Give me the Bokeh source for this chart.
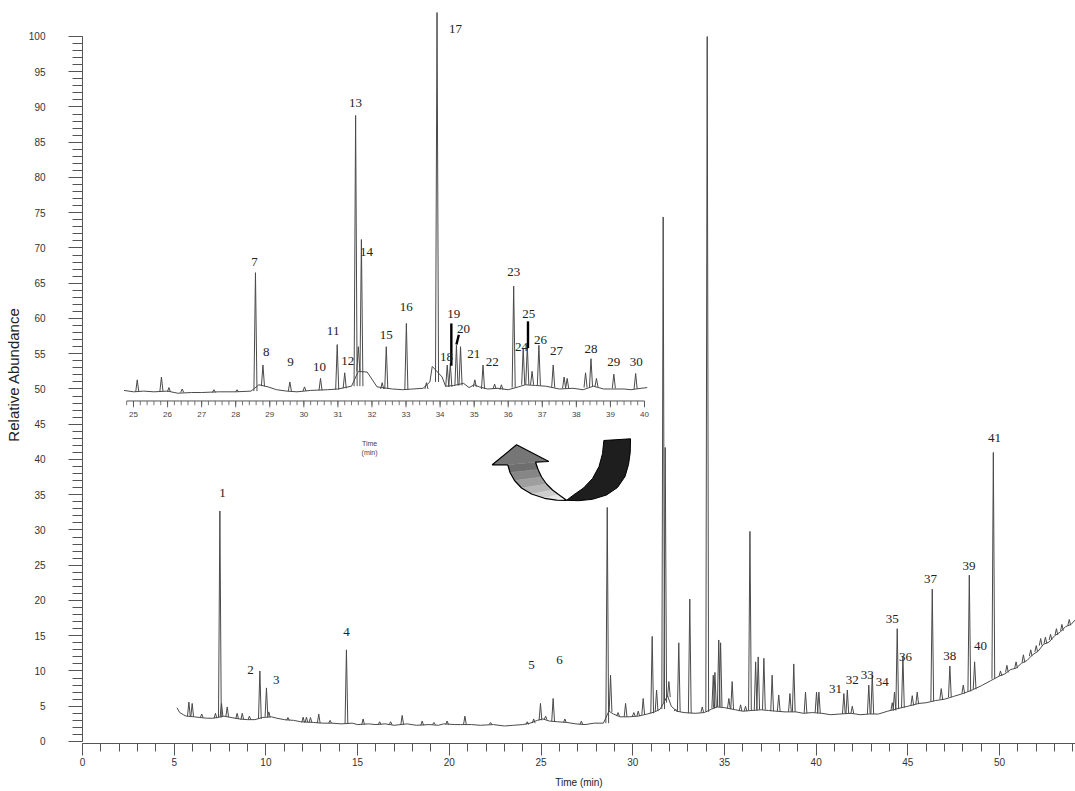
import numpy as np
from bokeh.plotting import figure
from bokeh.models import Range1d, SingleIntervalTicker
from bokeh.core.properties import value
from bokeh.embed import file_html
from bokeh.resources import INLINE

# ---------------- main chromatogram (time in min, relative abundance) ----------------
base_t = [5.15, 5.3, 5.5, 5.65, 6.1, 6.4, 6.8, 7.1, 7.35, 7.7, 8.1, 8.55, 9.0, 9.4, 9.8,
          10.3, 10.6, 11.0, 11.5, 11.9, 12.6, 13.1, 13.6, 14.1, 14.7, 15.0, 15.6, 16.0, 16.5,
          17.0, 17.7, 18.2, 18.9, 19.4, 19.7, 20.3, 20.6, 21.2, 21.7, 22.4, 23.0, 23.5, 24.0,
          24.4, 24.8, 25.1, 25.45, 25.9, 26.4, 26.9, 27.4, 27.9, 28.4, 28.7, 28.95, 29.3,
          29.8, 30.3, 30.8, 31.2, 31.5, 31.9, 32.1, 32.4, 32.8, 33.4, 33.9, 34.3, 34.6, 35.0,
          35.6, 36.0, 36.5, 37.0, 37.4, 37.8, 38.3, 38.9, 39.3, 39.8, 40.3, 40.8, 41.3, 41.9,
          42.4, 42.9, 43.4, 43.9, 44.5, 45.0, 45.6, 46.0, 46.5, 47.0, 47.5, 48.0, 48.5, 49.0,
          49.5, 50.0, 50.3, 50.6, 50.9, 51.2, 51.5, 51.8, 52.1, 52.4, 52.7, 53.0, 53.3, 53.6,
          53.9, 54.14]
base_y = [4.8, 4.1, 3.8, 3.6, 3.5, 3.4, 3.3, 3.3, 3.4, 3.6, 3.4, 3.2, 3.1, 3.1, 3.4,
          3.5, 3.3, 3.1, 3.0, 2.8, 2.7, 2.6, 2.6, 2.5, 2.6, 2.4, 2.5, 2.4, 2.5,
          2.3, 2.5, 2.3, 2.4, 2.3, 2.5, 2.4, 2.4, 2.4, 2.3, 2.4, 2.2, 2.3, 2.4,
          2.6, 3.0, 3.2, 2.9, 2.8, 2.7, 2.5, 2.4, 2.6, 2.6, 4.3, 3.9, 3.5,
          3.5, 3.6, 3.9, 4.2, 4.6, 6.5, 5.0, 4.3, 4.1, 4.0, 4.1, 4.6, 4.9, 4.8,
          4.5, 4.3, 4.4, 4.5, 4.4, 4.3, 4.2, 4.2, 4.0, 4.1, 4.0, 3.8, 3.9, 4.0,
          3.8, 3.9, 3.9, 4.3, 4.7, 5.0, 5.4, 5.5, 5.8, 6.0, 6.4, 6.8, 7.3, 7.9,
          8.6, 9.3, 9.6, 10.2, 10.4, 11.1, 11.5, 12.3, 12.8, 13.8, 14.1, 15.0, 15.5, 16.3,
          16.6, 17.3]

peak_t = [5.80, 5.98, 6.50, 7.25, 7.49, 7.58, 7.89, 8.43, 8.71, 9.10, 9.67, 10.03, 10.16,
          11.20, 12.03, 12.21, 12.43, 12.88, 13.50, 14.39, 15.30, 16.20, 16.80, 17.43, 18.52,
          19.16, 19.88, 20.85, 22.25, 24.25, 24.60, 24.97, 25.25, 25.66, 26.30, 27.20, 28.61,
          28.79, 29.20, 29.61, 30.06, 30.30, 30.57, 31.06, 31.30, 31.66, 31.77, 31.97, 32.33,
          32.51, 33.11, 33.79, 34.06, 34.39, 34.48, 34.69, 34.79, 35.24, 35.42, 35.88, 36.15,
          36.39, 36.70, 36.84, 37.15, 37.60, 37.96, 38.57, 38.78, 39.42, 40.02, 40.15, 41.51,
          41.70, 41.97, 42.87, 43.06, 44.15, 44.27, 44.42, 44.73, 45.24, 45.51, 46.33, 46.82,
          47.29, 48.02, 48.35, 48.64, 49.66, 50.05, 50.40, 50.90, 51.30, 51.70, 52.00, 52.24,
          52.50, 52.78, 53.10, 53.40, 53.80]
peak_base = [3.6, 3.5, 3.4, 3.3, 3.4, 3.5, 3.5, 3.2, 3.1, 3.1, 3.2, 3.5, 3.4,
             3.0, 2.7, 2.7, 2.7, 2.6, 2.6, 2.5, 2.4, 2.4, 2.4, 2.4, 2.3,
             2.4, 2.4, 2.4, 2.4, 2.4, 2.6, 3.0, 3.1, 2.9, 2.7, 2.4, 2.6,
             4.2, 3.6, 3.5, 3.6, 3.6, 3.8, 4.0, 4.3, 4.6, 5.5, 6.3, 4.3,
             4.2, 4.0, 4.1, 4.2, 4.7, 4.8, 4.9, 4.9, 4.7, 4.6, 4.3, 4.3,
             4.4, 4.4, 4.5, 4.5, 4.3, 4.3, 4.2, 4.2, 4.0, 4.1, 4.0, 3.9,
             3.9, 4.0, 3.9, 3.9, 4.4, 4.4, 4.6, 4.8, 5.1, 5.3, 5.7, 6.0,
             6.3, 6.8, 7.1, 7.4, 8.9, 9.3, 9.8, 10.4, 11.2, 12.1, 12.7, 13.6,
             13.9, 14.4, 15.1, 15.7, 16.5]
peak_top = [5.6, 5.4, 3.9, 4.0, 32.7, 5.4, 4.9, 4.0, 4.0, 3.6, 10.0, 7.6, 4.2,
            3.4, 3.45, 3.45, 3.4, 3.9, 3.0, 13.0, 3.2, 2.8, 2.8, 3.7, 2.9,
            2.7, 2.9, 3.6, 2.7, 2.8, 3.2, 5.4, 3.6, 6.1, 3.2, 2.9, 33.2,
            9.4, 4.1, 5.4, 4.1, 4.3, 6.1, 14.9, 7.3, 74.4, 41.7, 8.5, 4.6,
            14.0, 20.2, 4.9, 100.0, 9.4, 9.8, 14.4, 14.0, 6.1, 8.5, 5.2, 5.0,
            29.8, 11.3, 12.0, 11.8, 9.4, 6.6, 6.8, 11.0, 7.0, 7.0, 7.0, 6.8,
            7.3, 5.0, 8.0, 9.5, 5.5, 7.0, 16.0, 12.1, 6.5, 7.0, 21.6, 7.5,
            10.7, 8.0, 23.6, 11.3, 41.0, 10.0, 10.8, 11.3, 12.3, 13.0, 13.6, 14.6,
            14.8, 15.2, 16.0, 16.6, 17.3]

lab_text = ["1", "2", "3", "4", "5", "6", "31", "32", "33", "34", "35", "36", "37", "38",
            "39", "40", "41"]
lab_t = [7.63, 9.16, 10.56, 14.39, 24.48, 26.01, 41.06, 41.97, 42.79, 43.60, 44.15, 44.87,
         46.24, 47.29, 48.33, 48.96, 49.73]
lab_y = [35.3, 10.2, 8.7, 15.5, 10.8, 11.6, 7.5, 8.7, 9.4, 8.4, 17.4, 12.0, 23.1, 12.1,
         24.9, 13.5, 43.1]

# ---------------- inset (expanded 25-40 min) ----------------
ins_base_t = [24.72, 25.0, 25.3, 25.6, 26.0, 26.3, 26.7, 27.0, 27.5, 28.0, 28.45, 28.68,
              28.95, 29.2, 29.5, 29.8, 30.2, 30.7, 31.0, 31.4, 31.6, 31.86, 32.15, 32.6,
              32.9, 33.2, 33.5, 33.7, 33.77, 34.06, 34.16, 34.4, 34.69, 34.85, 35.0, 35.15,
              35.4, 35.7, 36.0, 36.3, 36.5, 36.8, 37.1, 37.5, 37.9, 38.2, 38.5, 38.8, 39.0,
              39.4, 39.6, 39.9, 40.08]
ins_base_y = [49.8, 49.6, 49.7, 49.6, 49.7, 49.4, 49.5, 49.5, 49.6, 49.6, 49.7, 50.6,
              50.3, 49.9, 49.7, 49.6, 49.8, 49.9, 50.0, 50.4, 52.5, 52.4, 50.3, 50.0,
              49.9, 50.0, 50.1, 51.0, 53.2, 51.7, 50.4, 50.5, 50.8, 50.2, 50.6, 50.3,
              50.0, 50.1, 49.9, 50.3, 50.6, 50.5, 50.4, 50.0, 50.1, 49.9, 50.4, 50.0, 50.0,
              50.0, 49.9, 50.1, 50.2]

ins_peak_t = [25.11, 25.82, 26.04, 26.43, 27.36, 28.04, 28.58, 28.80, 29.59, 30.02, 30.49,
              30.98, 31.20, 31.52, 31.60, 31.69, 32.30, 32.42, 33.01, 33.60, 33.91, 34.21,
              34.30, 34.48, 34.60, 35.02, 35.26, 35.60, 35.80, 36.16, 36.44, 36.56, 36.70,
              36.90, 37.32, 37.64, 37.73, 38.27, 38.43, 38.59, 39.10, 39.74]
ins_peak_base = [49.6, 49.7, 49.6, 49.5, 49.5, 49.6, 49.7, 50.4, 49.7, 49.7, 49.8,
                 49.9, 50.1, 50.4, 52.5, 50.4, 50.0, 50.0, 49.9, 50.0, 51.0, 50.3,
                 50.3, 50.5, 50.5, 50.3, 50.0, 50.0, 49.9, 50.2, 50.6, 50.6, 50.6,
                 50.5, 50.2, 50.1, 50.1, 50.2, 50.3, 50.3, 50.1, 50.0]
ins_peak_top = [51.3, 51.7, 50.2, 50.0, 49.9, 49.9, 66.5, 53.4, 51.0, 50.3, 51.5,
                56.3, 52.3, 88.8, 56.0, 71.2, 50.9, 56.0, 59.3, 50.9, 103.4, 53.4,
                53.6, 56.2, 56.0, 51.3, 53.4, 50.7, 50.6, 64.6, 55.8, 56.2, 52.5,
                56.2, 53.4, 51.7, 51.5, 52.3, 54.3, 51.5, 52.1, 52.2]

ins_lab_text = [str(n) for n in range(7, 31)]
ins_lab_t = [28.55, 28.90, 29.61, 30.46, 30.86, 31.29, 31.52, 31.84, 32.42, 33.01, 34.45,
             34.19, 34.40, 34.69, 34.99, 35.53, 36.16, 36.39, 36.60, 36.95, 37.42, 38.43,
             39.10, 39.76]
ins_lab_y = [68.0, 55.2, 53.8, 53.1, 58.2, 54.0, 90.5, 69.5, 57.7, 61.6, 101.1,
             54.6, 60.6, 58.5, 54.9, 53.9, 66.6, 55.9, 60.7, 57.0, 55.4, 55.7,
             53.8, 53.8]

# pointer bars (19, 20, 25) in inset
ptr_t0 = [34.33, 34.55, 36.58]
ptr_y0 = [59.3, 57.7, 59.6]
ptr_t1 = [34.33, 34.48, 36.58]
ptr_y1 = [53.3, 56.3, 55.8]

ins_tick_vals = list(range(25, 41))
ins_tick_labels = [str(v) for v in ins_tick_vals]

# ---------------- figure ----------------
X_END = 54.14
p = figure(width=1075, height=791, output_backend="svg", toolbar_location=None,
           x_range=Range1d(0, X_END), y_range=Range1d(-0.284, 104.397),
           min_border_left=82, min_border_right=0, min_border_top=5, min_border_bottom=48)
p.outline_line_color = None
p.grid.visible = False
p.background_fill_color = "white"

# inset horizontal scale mapped over the same frame
p.extra_x_ranges = {"inset": Range1d(23.503, 52.652)}

AX = "#555555"
for ax in (p.xaxis[0], p.yaxis[0]):
    ax.axis_line_color = AX
    ax.major_tick_line_color = AX
    ax.minor_tick_line_color = AX
    ax.major_tick_in = 0
    ax.minor_tick_in = 0
    ax.major_label_text_font = "Liberation Sans"
    ax.major_label_text_font_size = "10px"
    ax.major_label_text_color = "#333333"
    ax.axis_label_text_font = "Liberation Sans"
    ax.axis_label_text_font_style = "normal"
    ax.axis_label_text_color = "#222222"

p.xaxis.ticker = SingleIntervalTicker(interval=5, num_minor_ticks=5)
p.yaxis.ticker = SingleIntervalTicker(interval=5, num_minor_ticks=5)
p.xaxis.bounds = (0, X_END)
p.yaxis.bounds = (0, 100)
p.xaxis.major_tick_out = 12
p.xaxis.minor_tick_out = 8
p.xaxis.major_label_standoff = 2
p.xaxis.axis_label = "Time (min)"
p.xaxis.axis_label_text_font_size = "10px"
p.xaxis.axis_label_standoff = 8
p.yaxis.major_tick_out = 14
p.yaxis.minor_tick_out = 10
p.yaxis.major_label_standoff = 23
p.yaxis.axis_label = "Relative Abundance"
p.yaxis.axis_label_text_font_size = "15px"
p.yaxis.axis_label_standoff = 4

TRACE = "#4a4a4a"
W_MAIN = 0.075
W_INS = 0.045

# main trace
p.line(base_t, base_y, line_color=TRACE, line_width=1)
p.multi_line([[t - W_MAIN, t, t + W_MAIN] for t in peak_t],
             [[b, h, b] for b, h in zip(peak_base, peak_top)],
             line_color=TRACE, line_width=1)
p.text(x=lab_t, y=lab_y, text=lab_text, text_font=value("Liberation Serif"),
       text_font_size="13px", text_align="center", text_baseline="middle",
       text_color="#222222")

# inset trace
p.line(ins_base_t, ins_base_y, line_color=TRACE, line_width=1, x_range_name="inset")
p.multi_line([[t - W_INS, t, t + W_INS] for t in ins_peak_t],
             [[b, h, b] for b, h in zip(ins_peak_base, ins_peak_top)],
             line_color=TRACE, line_width=1, x_range_name="inset")
p.segment(x0=ptr_t0, y0=ptr_y0, x1=ptr_t1, y1=ptr_y1, line_color="black",
          line_width=2.4, x_range_name="inset")
p.text(x=ins_lab_t, y=ins_lab_y, text=ins_lab_text, text_font=value("Liberation Serif"),
       text_font_size="13px", text_align="center", text_baseline="middle",
       text_color="#222222", x_range_name="inset")

# inset axis
INS_AX_Y = 48.3
p.segment(x0=[24.8], y0=[INS_AX_Y], x1=[40.0], y1=[INS_AX_Y], line_color=AX,
          line_width=1, x_range_name="inset")
minor = np.round(np.arange(24.8, 40.0001, 0.2), 2)
p.segment(x0=minor, y0=INS_AX_Y, x1=minor, y1=INS_AX_Y - 0.6, line_color=AX,
          line_width=0.8, x_range_name="inset")
p.segment(x0=ins_tick_vals, y0=INS_AX_Y, x1=ins_tick_vals, y1=INS_AX_Y - 0.9,
          line_color=AX, line_width=0.9, x_range_name="inset")
p.text(x=ins_tick_vals, y=46.4, text=ins_tick_labels, text_font=value("Liberation Sans"),
       text_font_size="8px", text_align="center", text_baseline="middle",
       text_color="#444444", x_range_name="inset")
p.text(x=[31.93, 31.93], y=[42.3, 41.0], text=["Time", "(min)"],
       text_font=value("Liberation Sans"), text_font_size="7px", text_align="center",
       text_baseline="middle", text_color="#444444", x_range_name="inset")

# ---------------- curved arrow decoration (defined in pixel geometry) ----------------
def px2d(pts):
    xs = [(x - 82) / 18.34 for x, y in pts]
    ys = [(741 - y) / 7.05 for x, y in pts]
    return xs, ys

L = [(507.3, 464.3), (509.5, 472), (514, 480), (521, 487.5), (531, 493.5), (544, 497.8),
     (556, 499.6), (566, 499.8)]
R = [(535, 461.7), (537.5, 469), (541, 476.5), (546, 483.5), (552, 489.5), (558, 494),
     (562.5, 497.2), (566, 499.8)]
quad_xs, quad_ys, quad_col = [], [], []
n = len(L) - 1
for i in range(n):
    qx, qy = px2d([L[i], L[i + 1], R[i + 1], R[i]])
    quad_xs.append(qx)
    quad_ys.append(qy)
    g = int(110 + (255 - 110) * (i / (n - 1)))
    quad_col.append("#%02x%02x%02x" % (g, g, g))
p.patches(quad_xs, quad_ys, fill_color=quad_col, line_color=quad_col, line_width=0.5)

head = [(491.7, 464.3), (516, 444.3), (548.3, 461), (535, 461.7), (507.3, 464.3)]
hx, hy = px2d(head)
p.patch(hx, hy, fill_color="#767676", line_color=None)

outline = [(507.3, 464.3), (491.7, 464.3), (516, 444.3), (548.3, 461), (535, 461.7)] + R[1:] + L[::-1]
ox, oy = px2d(outline)
p.line(ox, oy, line_color="black", line_width=1.2)

outer = [(630, 438.3), (629.7, 452), (628, 464), (624.5, 476), (617, 487), (606, 494.5),
         (592, 498.8), (578, 500.2), (566, 499.8)]
inner = [(603.3, 440), (602, 453), (598.5, 466), (592, 478), (583, 487.5), (573, 494.5)]
cx, cy = px2d(outer + inner[::-1])
p.patch(cx, cy, fill_color="#1e1e1e", line_color="black", line_width=1)

open("out.html", "w").write(file_html(p, INLINE))
